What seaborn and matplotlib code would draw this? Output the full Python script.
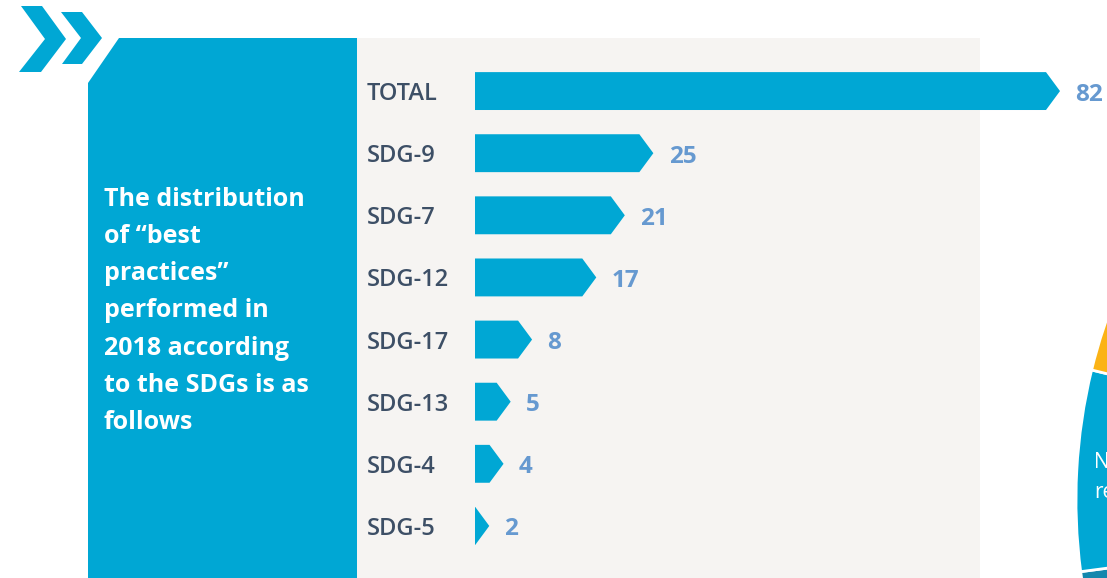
import matplotlib
matplotlib.use("Agg")
import matplotlib.pyplot as plt
from matplotlib.patches import Polygon, Rectangle, Wedge
import pandas as pd
import seaborn as sns

# data
categories = ['TOTAL', 'SDG-9', 'SDG-7', 'SDG-12', 'SDG-17', 'SDG-13', 'SDG-4', 'SDG-5']
counts = [82, 25, 21, 17, 8, 5, 4, 2]
panel_lines = ['The distribution', 'of \u201cbest', 'practices\u201d', 'performed in',
               '2018 according', 'to the SDGs is as', 'follows']

BLUE = '#00a7d4'
LABEL_BLUE = '#6699d0'
DARK = '#3d4f66'
GREY = '#f6f4f2'

W, H = 1107, 578
sns.set_theme(style='white')
plt.rcParams['font.family'] = ['Open Sans', 'DejaVu Sans']

fig = plt.figure(figsize=(W / 100, H / 100), dpi=100)
fig.patch.set_facecolor('white')

# background decoration drawn in pixel coordinates
bg = fig.add_axes([0, 0, 1, 1])
bg.set_xlim(0, W)
bg.set_ylim(H, 0)
bg.axis('off')

bg.add_patch(Rectangle((357, 38), 623, 560, color=GREY, lw=0))
bg.add_patch(Polygon([(119, 38), (357, 38), (357, 600), (88, 600), (88, 83)],
                     closed=True, color=BLUE, lw=0))
bg.add_patch(Polygon([(21, 6), (42, 6), (66, 39), (41, 72), (19, 72), (45, 39)],
                     closed=True, color=BLUE, lw=0))
bg.add_patch(Polygon([(61, 12), (82, 12), (102, 38), (82, 64), (62, 64), (81, 38)],
                     closed=True, color=BLUE, lw=0))

# partial pie chart cut off at the right edge
cx, cy, r = 1625, 500, 549
bg.add_patch(Wedge((cx, cy), r, 150, 172.5, color='#1487ad', ec='white', lw=2))
bg.add_patch(Wedge((cx, cy), r, 172.5, 193.7, color=BLUE, ec='white', lw=2))
bg.add_patch(Wedge((cx, cy), r, 193.7, 230, color='#fbb316', ec='white', lw=2))
bg.text(1094, 462, 'N', color='white', fontsize=15, va='center', ha='left')
bg.text(1094, 492, 're', color='white', fontsize=15, va='center', ha='left')

for i, line in enumerate(panel_lines):
    bg.text(104, 199 + i * 37.3, line, color='white', fontsize=18,
            fontweight='bold', va='center', ha='left')

# bar chart
df = pd.DataFrame({'category': categories, 'count': counts})
ax_left, ax_right = 475, 1060
ax_top, ax_bot = 60, 557
ax = fig.add_axes([ax_left / W, (H - ax_bot) / H, (ax_right - ax_left) / W, (ax_bot - ax_top) / H])
ax.patch.set_alpha(0)
sns.barplot(data=df, x='count', y='category', color=BLUE, width=0.61,
            saturation=1, ax=ax)
ax.set_xlim(0, max(counts))
ax.set_ylim(len(categories) - 0.5, -0.5)
for s in ax.spines.values():
    s.set_visible(False)
ax.set_xticks([])
ax.set_xlabel('')
ax.set_ylabel('')
ax.tick_params(axis='y', length=0, pad=78)
for t in ax.get_yticklabels():
    t.set_ha('left')
    t.set_color(DARK)
    t.set_fontsize(17)
    t.set_fontweight(600)

# turn rectangles into arrows with a fixed-size tip
tip = 14 / (ax_right - ax_left) * max(counts)
for p in list(ax.patches):
    x0, y0 = p.get_x(), p.get_y()
    w, h = p.get_width(), p.get_height()
    t = min(tip, w)
    poly = Polygon([(x0, y0), (x0 + w - t, y0), (x0 + w, y0 + h / 2),
                    (x0 + w - t, y0 + h), (x0, y0 + h)],
                   closed=True, color=BLUE, lw=0, clip_on=False)
    p.remove()
    ax.add_patch(poly)

for i, v in enumerate(counts):
    ax.annotate(str(v), (v, i), xytext=(11, -2.5), textcoords='offset points',
                va='center', ha='left', color=LABEL_BLUE, fontsize=17.5,
                fontweight='bold', annotation_clip=False)

fig.savefig('out.png', dpi=100)
